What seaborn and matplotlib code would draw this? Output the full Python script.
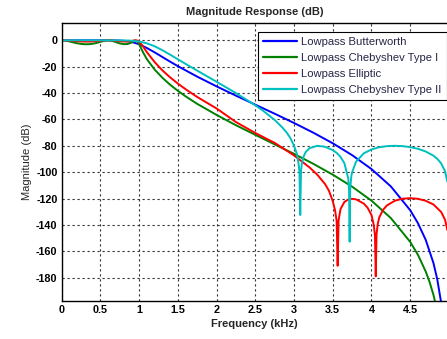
import matplotlib
matplotlib.use("Agg")
import matplotlib.pyplot as plt
import seaborn as sns
import pandas as pd

# Magnitude responses (dB) of four 5th-order lowpass designs, fs = 10 kHz
freq_butter = [0.0, 0.5, 0.6, 0.7, 0.8, 0.9, 1.0, 1.1, 1.2, 1.3, 1.4, 1.5, 1.75, 2.0,
               2.25, 2.5, 2.75, 3.0, 3.25, 3.5, 3.75, 4.0, 4.25, 4.5, 4.6, 4.7, 4.8,
               4.85, 4.9, 4.95]
mag_butter = [0.0, -0.003, -0.02, -0.10, -0.37, -1.19, -3.01, -5.83, -9.14, -12.68,
              -16.19, -19.6, -27.56, -34.95, -41.97, -48.82, -55.67, -62.70, -70.09,
              -78.10, -87.10, -97.65, -110.8, -128.85, -138.7, -151.3, -168.9, -181.5,
              -199.1, -229.2]

freq_cheby1 = [0.0, 0.05, 0.1, 0.15, 0.2, 0.25, 0.3, 0.35, 0.4, 0.45, 0.5, 0.55, 0.6,
               0.65, 0.7, 0.75, 0.8, 0.85, 0.9, 0.95, 0.975, 1.0, 1.05, 1.1, 1.2, 1.3,
               1.4, 1.5, 1.6, 1.75, 2.0, 2.25, 2.5, 2.75, 3.0, 3.25, 3.5, 3.75, 4.0,
               4.25, 4.5, 4.6, 4.7, 4.75, 4.8, 4.85]
mag_cheby1 = [0.0, -0.24, -0.85, -1.59, -2.26, -2.74, -2.98, -2.94, -2.61, -2.01, -1.18,
              -0.38, 0.0, -0.40, -1.36, -2.36, -2.90, -2.82, -1.75, -0.02, -0.64, -3.0,
              -9.04, -14.35, -22.2, -28.4, -33.7, -38.3, -42.5, -48.2, -56.6, -64.4,
              -71.7, -78.9, -86.1, -93.7, -101.9, -111.0, -121.6, -134.8, -152.9,
              -162.7, -175.3, -183.3, -193.0, -205.6]

freq_ellip = [0.0, 0.05, 0.1, 0.15, 0.2, 0.25, 0.3, 0.35, 0.4, 0.45, 0.5, 0.55, 0.6,
              0.65, 0.7, 0.75, 0.8, 0.85, 0.9, 0.95, 0.975, 1.0, 1.05, 1.1, 1.2, 1.3,
              1.4, 1.5, 1.6, 1.75, 2.0, 2.25, 2.5, 2.75, 3.0, 3.2, 3.3, 3.4, 3.45, 3.5,
              3.53, 3.55, 3.563, 3.575, 3.6, 3.65, 3.7, 3.75, 3.8, 3.9, 3.95, 4.0, 4.03,
              4.045, 4.055, 4.065, 4.08, 4.1, 4.15, 4.2, 4.3, 4.4, 4.5, 4.6, 4.7, 4.8,
              4.9, 4.95, 4.98]
mag_ellip = [0.0, -0.06, -0.24, -0.48, -0.71, -0.87, -0.97, -0.95, -0.83, -0.63, -0.35,
             -0.10, 0.0, -0.11, -0.40, -0.73, -0.93, -0.90, -0.54, -0.01, -0.18, -1.0,
             -4.6, -9.0, -16.5, -22.8, -28.1, -32.8, -37.1, -43.0, -51.7, -62.0, -70.3,
             -77.8, -87.3, -96.4, -101.9, -109.0, -114.0, -122.0, -129.0, -137.0,
             -171.0, -136.6, -128.0, -122.6, -120.7, -120.2, -120.6, -123.8, -127.0,
             -132.5, -140.2, -148.2, -179.0, -147.3, -139.6, -134.3, -128.5, -125.2,
             -121.7, -120.1, -119.7, -120.2, -121.7, -124.5, -130.2, -136.1, -144.0]

freq_cheby2 = [0.0, 0.5, 0.7, 0.8, 0.9, 1.0, 1.1, 1.2, 1.3, 1.4, 1.5, 1.6, 1.75, 1.9,
               2.0, 2.25, 2.5, 2.6, 2.75, 2.85, 2.9, 2.95, 3.0, 3.04, 3.06, 3.07, 3.08,
               3.09, 3.1, 3.12, 3.15, 3.2, 3.3, 3.4, 3.5, 3.55, 3.6, 3.65, 3.7, 3.71,
               3.718, 3.725, 3.74, 3.75, 3.8, 3.9, 4.0, 4.1, 4.2, 4.3, 4.4, 4.5, 4.6,
               4.7, 4.8, 4.85, 4.9, 4.95, 4.98]
mag_cheby2 = [0.0, -0.002, -0.02, -0.085, -0.30, -0.92, -2.28, -4.52, -7.52, -10.9,
              -14.39, -17.9, -23.0, -28.08, -31.45, -40.03, -49.28, -53.4, -60.4,
              -66.17, -69.6, -73.85, -80.0, -86.7, -94.27, -99.76, -132.5, -98.9,
              -93.79, -88.7, -84.73, -81.8, -80.0, -80.74, -83.28, -85.37, -88.38,
              -93.2, -104.8, -112.9, -152.7, -112.3, -102.9, -100.1, -92.1, -85.74,
              -82.75, -81.07, -80.25, -80.0, -80.25, -81.0, -82.29, -84.32, -87.48,
              -89.91, -93.36, -99.3, -107.3]

filter_names = ["Lowpass Butterworth", "Lowpass Chebyshev Type I",
                "Lowpass Elliptic", "Lowpass Chebyshev Type II"]
line_colors = ["#0000ff", "#008000", "#ff0000", "#00bfbf"]

x_tick_values = [0, 0.5, 1, 1.5, 2, 2.5, 3, 3.5, 4, 4.5]
x_tick_labels = ["0", "0.5", "1", "1.5", "2", "2.5", "3", "3.5", "4", "4.5"]
y_tick_values = [0, -20, -40, -60, -80, -100, -120, -140, -160, -180]
y_tick_labels = ["0", "-20", "-40", "-60", "-80", "-100", "-120", "-140", "-160", "-180"]

frames = []
for name, fr, mg in zip(filter_names,
                        [freq_butter, freq_cheby1, freq_ellip, freq_cheby2],
                        [mag_butter, mag_cheby1, mag_ellip, mag_cheby2]):
    frames.append(pd.DataFrame({"Frequency": fr, "Magnitude": mg, "Filter": name}))
df = pd.concat(frames, ignore_index=True)

sns.set_theme(style="white")
plt.rcParams["font.family"] = ["Liberation Sans", "DejaVu Sans"]

fig = plt.figure(figsize=(4.47, 3.39), dpi=100)
ax = fig.add_axes([61.7 / 447, 38 / 339, (447 - 61.7) / 447, 277.7 / 339])

sns.lineplot(data=df, x="Frequency", y="Magnitude", hue="Filter",
             hue_order=filter_names, palette=line_colors, estimator=None,
             sort=False, linewidth=1.4, ax=ax)

ax.set_xlim(0, 4.975)
ax.set_ylim(-197.7, 12.9)
ax.set_xticks(x_tick_values)
ax.set_xticklabels(x_tick_labels)
ax.set_yticks(y_tick_values)
ax.set_yticklabels(y_tick_labels)
ax.tick_params(direction="in", length=3, width=0.8, color="black",
               labelsize=7.8, pad=3, labelcolor="black")
for lab in ax.get_xticklabels() + ax.get_yticklabels():
    lab.set_fontweight("bold")

ax.grid(True, color="#333333", linestyle=(0, (2, 2.5)), linewidth=0.8)
for side in ["left", "bottom", "top"]:
    ax.spines[side].set_color("black")
    ax.spines[side].set_linewidth(1.0)
ax.spines["right"].set_visible(False)

ax.set_title("Magnitude Response (dB)", fontsize=8, fontweight="bold", pad=6)
ax.set_xlabel("Frequency (kHz)", fontsize=8, fontweight="bold", labelpad=3)
ax.set_ylabel("Magnitude (dB)", fontsize=8, labelpad=3)

handles, labels = ax.get_legend_handles_labels()
leg = ax.legend(handles, labels, loc="upper right", bbox_to_anchor=(0.999, 0.97),
                borderaxespad=0, fontsize=8.1, frameon=True, fancybox=False,
                edgecolor="black", framealpha=1, handlelength=3.0,
                handletextpad=0.4, labelspacing=0.55, borderpad=0.45)
leg.get_frame().set_linewidth(0.8)
for t in leg.get_texts():
    t.set_color("#262646")
for ln in leg.get_lines():
    ln.set_linewidth(1.6)

fig.savefig("out.png", dpi=100)
